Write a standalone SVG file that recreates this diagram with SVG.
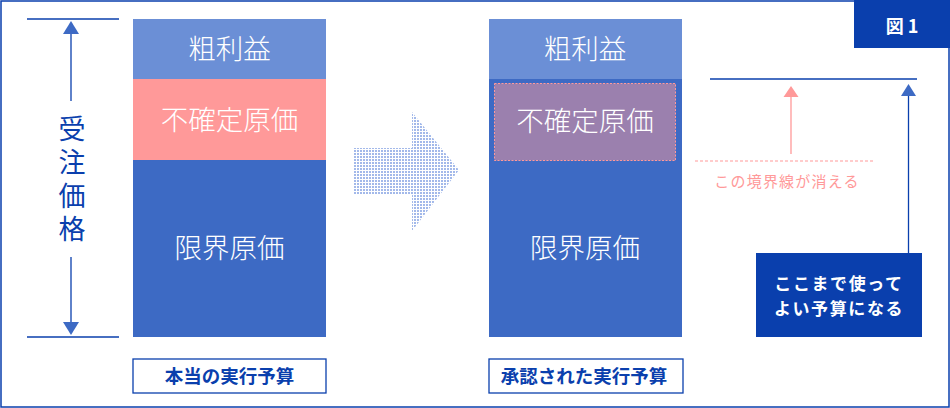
<svg xmlns="http://www.w3.org/2000/svg" width="950" height="408" viewBox="0 0 950 408">
<defs>
<style>
.jp{font-family:"Noto Sans CJK JP","Noto Sans",sans-serif;}
.big{font-size:27.5px;fill:#ffffff;font-weight:300;text-anchor:middle;}
.lbl{font-size:18.5px;fill:#0a3fad;font-weight:700;text-anchor:middle;}
.dim{stroke:#0a3fad;stroke-width:1.3;fill:none;}
</style>
<pattern id="dots" width="3" height="3" patternUnits="userSpaceOnUse">
<rect width="3" height="3" fill="#ffffff"/>
<rect width="2" height="2" fill="#a3b9ea"/>
</pattern>
</defs>
<rect x="0" y="0" width="950" height="408" fill="#ffffff"/>
<rect x="1" y="1" width="948" height="406" fill="none" stroke="#0a3fad" stroke-width="1.5"/>

<g id="fig-label">
<rect x="854" y="0" width="96" height="48" fill="#0a3fad"/>
<text class="jp" x="902" y="33" font-size="18" font-weight="700" fill="#ffffff" text-anchor="middle">図 1</text>
</g>

<g id="dimension">
<line class="dim" x1="27" y1="19" x2="119" y2="19"/>
<line class="dim" x1="27" y1="337" x2="119" y2="337"/>
<line class="dim" x1="71" y1="34" x2="71" y2="101"/>
<line class="dim" x1="71" y1="257" x2="71" y2="323"/>
<path d="M71,21 L79,34 L63,34 Z" fill="#3d6ac4"/>
<path d="M71,335 L79,322 L63,322 Z" fill="#3d6ac4"/>
<text class="jp" x="72" y="115" font-size="27" fill="#0a3fad" writing-mode="vertical-rl" letter-spacing="6.5">受注価格</text>
</g>

<g id="left-column">
<rect x="133" y="19" width="193" height="60" fill="#6b8fd6"/>
<rect x="133" y="79" width="193" height="81" fill="#ff9999"/>
<rect x="133" y="160" width="193" height="177" fill="#3d6ac4"/>
<text class="jp big" x="229.5" y="59">粗利益</text>
<text class="jp big" x="229.5" y="130">不確定原価</text>
<text class="jp big" x="229.5" y="258">限界原価</text>
</g>
<g id="left-label">
<rect x="133" y="359" width="193" height="34" fill="#ffffff" stroke="#0a3fad" stroke-width="1.3"/>
<text class="jp lbl" x="229.5" y="382.5">本当の実行予算</text>
</g>

<g id="big-arrow">
<path d="M353,148 L412,148 L412,112 L459,170 L412,231 L412,195 L353,195 Z" fill="url(#dots)"/>
</g>

<g id="right-column">
<rect x="489" y="19" width="193" height="60" fill="#6b8fd6"/>
<rect x="489" y="79" width="193" height="258" fill="#3d6ac4"/>
<rect x="494.5" y="83.5" width="181" height="77" fill="#9b80ae" stroke="#ff9999" stroke-width="1" stroke-dasharray="2,1.5"/>
<text class="jp big" x="585" y="59">粗利益</text>
<text class="jp big" x="585" y="131">不確定原価</text>
<text class="jp big" x="585" y="258">限界原価</text>
</g>
<g id="right-label">
<rect x="489" y="359" width="194" height="34" fill="#ffffff" stroke="#0a3fad" stroke-width="1.3"/>
<text class="jp lbl" x="584" y="382.5">承認された実行予算</text>
</g>

<g id="connectors">
<line x1="710" y1="79" x2="917" y2="79" stroke="#0a3fad" stroke-width="1.3"/>
<line x1="695" y1="161" x2="873" y2="161" stroke="#ff9999" stroke-width="1" stroke-dasharray="3,2"/>
<line x1="791" y1="96" x2="791" y2="154" stroke="#ff9999" stroke-width="1.3"/>
<path d="M791,86 L798.5,97 L783.5,97 Z" fill="#ff9999"/>
<line x1="908.5" y1="95" x2="908.5" y2="253" stroke="#0a3fad" stroke-width="1.3"/>
<path d="M908.5,84 L916,96 L901,96 Z" fill="#3d6ac4"/>
</g>

<g id="boundary-note">
<text class="jp" x="787" y="187" font-size="15" fill="#ff9999" text-anchor="middle" letter-spacing="1.2">この境界線が消える</text>
</g>

<g id="budget-note">
<rect x="756" y="253" width="166" height="84" fill="#0a3fad"/>
<text class="jp" x="839" y="290" font-size="17" font-weight="700" fill="#ffffff" text-anchor="middle" letter-spacing="1.6">ここまで使って</text>
<text class="jp" x="839" y="314.5" font-size="17" font-weight="700" fill="#ffffff" text-anchor="middle" letter-spacing="1.6">よい予算になる</text>
</g>
</svg>
